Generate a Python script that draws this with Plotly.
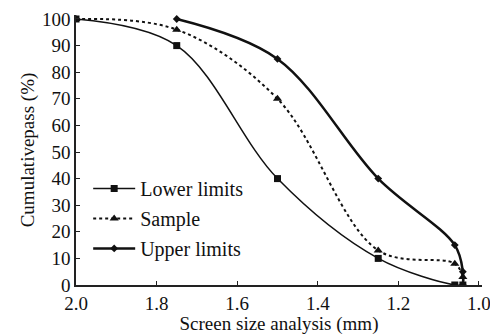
import plotly.graph_objects as go

lower_x = [2.0, 1.75, 1.5, 1.25, 1.06, 1.04]
lower_y = [100, 90, 40, 10, 0, 0]
sample_x = [2.0, 1.75, 1.5, 1.25, 1.06, 1.04, 1.04]
sample_y = [100, 96, 70, 13, 8, 3, 0]
upper_x = [1.75, 1.5, 1.25, 1.06, 1.04, 1.04]
upper_y = [100, 85, 40, 15, 5, 0]
x_ticks = [2.0, 1.8, 1.6, 1.4, 1.2, 1.0]
y_ticks = [0, 10, 20, 30, 40, 50, 60, 70, 80, 90, 100]

FONT = "Liberation Serif, Times New Roman, serif"
fig = go.Figure()
fig.add_trace(go.Scatter(x=lower_x, y=lower_y, name="Lower limits", mode="lines+markers",
                         legendgroup="a",
                         line=dict(color="#111", width=1.5, shape="spline", smoothing=1),
                         marker=dict(symbol="square", size=7, color="#111")))
fig.add_trace(go.Scatter(x=sample_x, y=sample_y, name="Sample", mode="lines+markers",
                         legendgroup="b",
                         line=dict(color="#111", width=2, dash="dot", shape="spline", smoothing=1),
                         marker=dict(symbol="triangle-up", size=8, color="#111")))
fig.add_trace(go.Scatter(x=upper_x, y=upper_y, name="Upper limits", mode="lines+markers",
                         legendgroup="c",
                         line=dict(color="#111", width=2.5, shape="spline", smoothing=1),
                         marker=dict(symbol="diamond", size=6, color="#111")))

fig.update_layout(
    template="none",
    width=490, height=335,
    margin=dict(l=76, r=8, t=15, b=50),
    paper_bgcolor="white", plot_bgcolor="white",
    font=dict(family=FONT, size=19, color="#111"),
    showlegend=True,
    legend=dict(x=0.03, y=0.43, xanchor="left", yanchor="top",
                bgcolor="rgba(0,0,0,0)", font=dict(family=FONT, size=20),
                tracegroupgap=1, itemwidth=42),
    xaxis=dict(range=[2.0, 0.9925], tickvals=x_ticks, ticktext=[f"{v:.1f}" for v in x_ticks],
               automargin=False, ticklabeloverflow="allow",
               showgrid=False, zeroline=False, showline=True, linecolor="#222", linewidth=1.5,
               ticks="inside", ticklen=4, tickcolor="#222", tickfont=dict(size=19),
               title=dict(text="Screen size analysis (mm)", font=dict(family=FONT, size=19), standoff=2)),
    yaxis=dict(range=[0, 101.5], tickvals=y_ticks, showgrid=False, zeroline=False,
               automargin=False,
               showline=True, linecolor="#222", linewidth=1.5,
               ticks="inside", ticklen=4, tickcolor="#222", tickfont=dict(size=19),
               title=dict(text="Cumulativepass (%)", font=dict(family=FONT, size=19), standoff=2)),
)
fig.write_html("out.html", config={"displayModeBar": False},
               post_script="document.body.style.margin='0';document.body.style.overflow='hidden';")
